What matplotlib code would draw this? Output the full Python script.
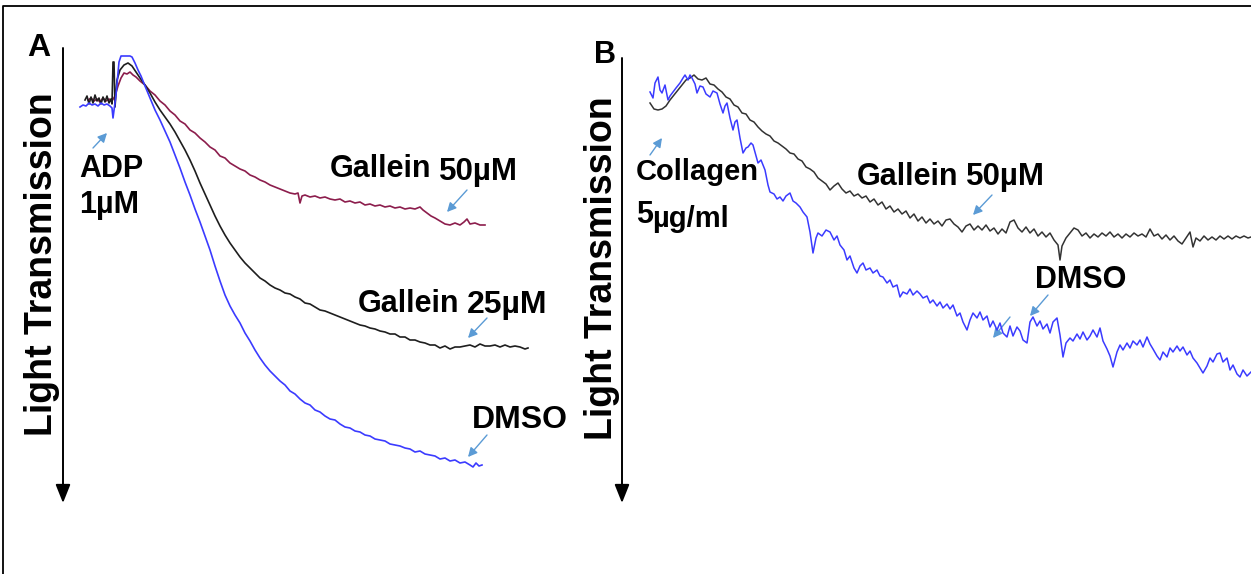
import numpy as np
import matplotlib
matplotlib.use("Agg")
import matplotlib.pyplot as plt
from matplotlib import font_manager

# ---------------------------------------------------------------------------
# Aggregation traces: (time after start of recording [s], change in light
# transmission [%]).  Larger values = more aggregation (traces run downward).
# ---------------------------------------------------------------------------

# Panel A - ADP 1 uM
adp_dmso = np.array([
    (0, 1.75), (3, 1.25), (6, 1.5), (9, 0.75), (12, 1.25), (15, 1.0), (18, 1.5),
    (21, 0.75), (24, 1.25), (27, 1.0), (30, 1.5), (32, 2.0), (33, 4.5), (36, -1.25),
    (39, -9.5), (41, -11), (45, -11), (50, -11), (52, -10.75), (55, -9.25), (58, -7.5),
    (61, -6), (65, -3.5), (70, -0.5), (75, 2.5), (80, 5), (85, 7.75), (90, 10.5),
    (95, 13.75), (100, 17), (105, 20.5), (110, 23.75), (115, 27.25), (120, 30.5),
    (125, 34), (130, 37.5), (135, 41.5), (140, 45.25), (145, 48.75), (150, 51.5),
    (155, 53.75), (160, 55.75), (165, 58.25), (170, 60.25), (175, 62.5), (180, 64.5),
    (185, 66.25), (190, 67.75), (195, 69), (200, 70.25), (205, 71.25), (210, 72.75),
    (215, 73.5), (220, 74.75), (225, 75.75), (230, 76.25), (235, 77.5), (240, 78),
    (245, 79), (250, 79.75), (255, 80), (260, 81), (265, 81.75), (270, 82),
    (275, 82.75), (280, 83), (285, 83.75), (290, 84), (295, 84.75), (300, 85),
    (305, 85.25), (310, 86), (315, 86.25), (320, 86.5), (325, 87), (330, 87.25),
    (335, 88), (340, 87.75), (345, 88.5), (350, 88.75), (355, 89), (360, 89.75),
    (365, 89.5), (370, 90.25), (375, 90), (380, 90.75), (385, 90.5), (390, 91.25),
    (393, 91.75), (396, 90.75), (399, 91.5), (402, 91.25),
])

adp_gallein25 = np.array([
    (5, 0), (7, -1), (9, 1), (11, -0.75), (13, 0.75), (15, -1.25), (17, 0.25),
    (19, -0.5), (21, 1), (23, -0.75), (25, 0.5), (27, -1), (29, 0.75), (31, -0.25),
    (32, 1.0), (33, -9.5), (34, -9.5), (35, 1.75), (37, -5), (40, -7.5), (44, -8.75),
    (48, -9.25), (52, -8.5), (56, -7), (60, -5.5), (65, -3.75), (70, -1.75),
    (75, 0.5), (80, 2.5), (85, 4.25), (90, 6), (95, 8), (100, 10.25), (105, 12.5),
    (110, 15), (115, 17.75), (120, 20.75), (125, 23.5), (130, 26.25), (135, 29),
    (140, 31.5), (145, 33.75), (150, 35.75), (155, 37.5), (160, 39.25), (165, 40.75),
    (170, 42), (175, 43.25), (180, 44.5), (185, 45.25), (190, 46.25), (195, 47),
    (200, 47.5), (205, 48.25), (210, 48.5), (215, 49.25), (220, 49.75), (225, 50.75),
    (230, 51), (235, 51.75), (240, 52.5), (245, 52.75), (250, 53.25), (255, 53.75),
    (260, 54.25), (265, 54.75), (270, 55.25), (275, 55.75), (280, 56.25), (285, 56.5),
    (290, 57), (295, 57.25), (300, 57.75), (305, 58), (310, 58.5), (315, 58.5),
    (320, 59.25), (325, 59.25), (330, 60), (335, 60), (340, 60.5), (345, 60.75),
    (350, 61.25), (355, 61.25), (360, 62), (365, 61.5), (370, 62.25), (375, 61.75),
    (380, 61.75), (385, 61.5), (390, 61.25), (395, 61.75), (400, 61), (405, 61.5),
    (410, 61.5), (415, 61.25), (420, 61.75), (425, 61.25), (430, 61.75), (435, 61.5),
    (440, 61.75), (445, 62.25), (448, 62),
])

adp_gallein50 = np.array([
    (8, 0), (11, -0.5), (14, 0.25), (17, -0.25), (20, 0.5), (23, -0.5), (26, 0.25),
    (29, -0.25), (32, 0.25), (35, -1), (38, -3.5), (41, -5.5), (44, -6.75), (47, -6.5),
    (50, -7), (53, -6.25), (56, -5.75), (60, -4.75), (65, -3.75), (70, -2.25),
    (75, -1.25), (80, 0.25), (85, 1.25), (90, 2.75), (95, 3.75), (100, 5.25),
    (105, 6), (110, 7.5), (115, 8.25), (120, 9.5), (125, 10.5), (130, 11.75),
    (135, 12.5), (140, 14), (145, 14.5), (150, 15.75), (155, 16.5), (160, 17.25),
    (165, 17.75), (170, 18.75), (175, 19.25), (180, 20), (185, 20.5), (190, 21.25),
    (195, 21.75), (200, 22.25), (205, 22.75), (210, 23.25), (215, 23.5), (218, 23.25),
    (220, 25.75), (222, 24), (225, 23.75), (230, 24.25), (235, 24), (240, 24.5),
    (245, 24.25), (250, 24.75), (255, 25), (260, 24.75), (265, 25.5), (270, 25.25),
    (275, 25.75), (280, 25.5), (285, 26.25), (290, 26), (295, 26.5), (300, 26.25),
    (305, 26.75), (310, 26.5), (315, 27), (320, 26.75), (325, 27.25), (330, 27),
    (335, 27.25), (340, 26.75), (343, 27.5), (347, 28.25), (351, 29), (355, 29.5),
    (360, 30.25), (365, 31), (370, 31.25), (375, 30.75), (380, 31.25), (384, 30.5),
    (387, 29.75), (390, 31), (395, 30.75), (400, 31.25), (405, 31.25),
])

# Panel B - collagen 5 ug/ml
col_gallein50 = np.array([
    (0, 0.75), (4, 2.25), (8, 2.5), (12, 2.25), (16, 1.5), (20, 0), (24, -1.25),
    (28, -2.5), (32, -3.75), (36, -5), (40, -5.5), (44, -6.25), (48, -5.25), (52, -5),
    (56, -5.5), (60, -4), (64, -3.75), (68, -2.75), (72, -2), (76, -0.75), (80, -0.25),
    (84, 1.25), (88, 1.75), (92, 3.25), (96, 3.5), (100, 5), (104, 5.5), (108, 6.75),
    (112, 7.75), (116, 8.5), (120, 9), (124, 10.25), (128, 10.75), (132, 11.5),
    (136, 12.25), (140, 13.25), (144, 13.5), (148, 14.75), (152, 15.25), (156, 16.75),
    (160, 17.25), (164, 18), (168, 19.5), (172, 20.25), (176, 21), (180, 22.5),
    (184, 21.5), (188, 20.75), (192, 22.25), (196, 23.25), (200, 22.75), (204, 24),
    (208, 23.5), (212, 24.5), (216, 24), (220, 25.5), (224, 24.75), (228, 26.25),
    (232, 25.5), (236, 27.25), (240, 26.5), (244, 28), (248, 27.25), (252, 28.5),
    (256, 27.75), (260, 29.5), (264, 28.5), (268, 30.25), (272, 29.25), (276, 30.75),
    (280, 29.75), (284, 31), (288, 30.25), (292, 31.5), (296, 30), (300, 29.75),
    (304, 31), (308, 31.75), (312, 33), (316, 31.5), (320, 31), (324, 32.5),
    (328, 31.5), (332, 32.5), (336, 31.25), (340, 32.75), (344, 32), (348, 33.5),
    (352, 32.25), (356, 33.25), (360, 30.5), (364, 30), (368, 32), (372, 33),
    (376, 31.75), (380, 33.25), (384, 32.25), (388, 34), (392, 33), (396, 34.25),
    (400, 33.25), (404, 35), (408, 36.25), (410, 40), (412, 36.5), (416, 34.5),
    (420, 33.25), (424, 32), (428, 32.5), (432, 34), (436, 33.25), (440, 34.5),
    (444, 33.5), (448, 34.25), (452, 33.25), (456, 34), (460, 33), (464, 34.25),
    (468, 33.5), (472, 34.5), (476, 33.5), (480, 34.25), (484, 33.25), (488, 34),
    (492, 33.5), (496, 34.25), (500, 32.25), (504, 34), (508, 33.5), (512, 34.75),
    (516, 33.75), (520, 35), (524, 34), (528, 35.25), (532, 36), (536, 34.5),
    (540, 33), (543, 36.75), (546, 34.5), (550, 35.25), (554, 34), (558, 35),
    (562, 34.25), (566, 35), (570, 34), (574, 34.75), (578, 34), (582, 34.75),
    (586, 34), (590, 34.5), (594, 34), (598, 34.5), (601, 34.25),
])

col_dmso = np.array([
    (0, -2), (3, -0.5), (5, -4.25), (8, -5.75), (10, -2.5), (12, -1.75), (15, -3.75),
    (18, 0), (20, -1), (23, -2), (26, -3), (30, -4.25), (33, -5.5), (35, -6.25),
    (38, -5), (40, -6.25), (42, -5.5), (45, -4), (47, -1.75), (50, -3.5), (53, -3.25),
    (56, -1.5), (60, -0.75), (63, -2.25), (67, -1.75), (70, 1), (73, 3.25), (75, 1.5),
    (77, 0.75), (80, 4.5), (83, 7.5), (85, 5.5), (87, 5), (90, 9.5), (93, 13.25),
    (96, 12), (98, 11.75), (101, 10.75), (103, 11.25), (106, 14), (108, 15.75),
    (111, 15), (115, 17.5), (118, 21.25), (120, 23), (124, 23.5), (127, 24.75),
    (130, 24.25), (133, 25.25), (136, 24), (140, 23.25), (143, 25.25), (146, 25.75),
    (150, 26.75), (153, 28), (157, 29.25), (160, 33), (163, 38.25), (166, 34.5),
    (168, 33.25), (172, 34), (176, 32.5), (180, 33), (184, 35), (187, 34),
    (190, 36.25), (194, 37.5), (197, 40), (200, 39), (204, 42), (207, 43.25),
    (210, 41.5), (213, 40.75), (216, 42.5), (220, 42), (223, 43.25), (227, 42.5),
    (230, 44), (233, 44.25), (237, 45.75), (240, 45), (243, 46.75), (247, 46.25),
    (250, 49.25), (253, 48), (257, 48.5), (260, 47.25), (263, 48.75), (267, 47.75),
    (270, 48.5), (273, 49.5), (277, 49), (280, 50.75), (283, 50), (287, 51.5),
    (290, 50.5), (293, 52), (297, 51), (300, 52.25), (303, 51.25), (307, 54),
    (310, 53.25), (313, 55.5), (317, 57.5), (320, 55), (323, 53.25), (327, 54.5),
    (330, 53), (333, 55), (337, 54), (340, 56.75), (343, 55.25), (347, 57.5),
    (350, 55.75), (353, 58.25), (357, 59.25), (360, 56.5), (363, 59), (367, 56.75),
    (370, 57.75), (373, 60), (377, 60.75), (380, 55.5), (383, 54.25), (387, 56.5),
    (390, 55.25), (393, 57.25), (397, 56), (400, 58.25), (403, 55.5), (407, 54.5),
    (410, 58.75), (413, 64.25), (416, 60.75), (420, 59.5), (423, 60.25), (427, 58.5),
    (430, 59.75), (433, 58), (437, 60), (440, 59), (443, 57.5), (447, 59.25),
    (450, 57), (453, 60.25), (457, 62.25), (460, 64), (463, 66.75), (467, 63),
    (470, 61.25), (473, 62.5), (477, 60.75), (480, 62), (483, 60.25), (487, 61.25),
    (490, 60), (493, 61.75), (497, 59.25), (500, 61), (503, 62.25), (507, 64),
    (510, 65), (513, 63), (517, 64.25), (520, 62), (523, 63), (527, 61.5),
    (530, 62.75), (533, 61.75), (537, 63.75), (540, 62.75), (543, 64.5), (547, 65.75),
    (550, 67), (553, 68.25), (557, 66.5), (560, 64.5), (563, 65.5), (567, 63.5),
    (570, 63.25), (573, 65.5), (577, 64.5), (580, 67.5), (583, 66.25), (587, 68.5),
    (590, 69.25), (593, 67.5), (597, 69), (601, 68),
])

# Colours
BLUE = "#3b3bff"
BLACK = "#1e1e1e"
GREY = "#333333"
MAROON = "#8c1d4c"
POINTER = "#5b9bd5"

# ---------------------------------------------------------------------------
W, H = 1251, 574
fig = plt.figure(figsize=(W / 100, H / 100), dpi=100)

# full-figure layer (pixel units) for frame, axis arrows, labels, pointers
canvas = fig.add_axes([0, 0, 1, 1])
canvas.set_xlim(0, W)
canvas.set_ylim(H, 0)
canvas.axis("off")

names = {f.name for f in font_manager.fontManager.ttflist}
FONT = "Liberation Sans" if "Liberation Sans" in names else "DejaVu Sans"
if "Liberation Sans Narrow" in names:
    AX_FONT, AX_SIZE = "Liberation Sans Narrow", 33
else:
    AX_FONT, AX_SIZE = FONT, 27


def panel(left, top, right, bottom, start_px, base_px, px_per_pct=4.0):
    """Trace axes placed in pixel units; 1 s per pixel, 4 px per % transmission."""
    ax = fig.add_axes([left / W, 1 - bottom / H, (right - left) / W, (bottom - top) / H])
    ax.set_xlim(left - start_px, right - start_px)
    ax.set_ylim((bottom - base_px) / px_per_pct, (top - base_px) / px_per_pct)
    ax.axis("off")
    return ax


# outer frame (top and left edges)
canvas.plot([3, 3, W], [H, 6, 6], color="black", lw=1.3, solid_capstyle="butt")

# downward "Light Transmission" axes
for x, y_top in [(63, 48), (622, 58)]:
    canvas.annotate("", xy=(x, 503), xytext=(x, y_top),
                    arrowprops=dict(arrowstyle="-|>,head_length=0.8,head_width=0.32",
                                    color="black", lw=1.4, mutation_scale=14,
                                    shrinkA=0, shrinkB=0))

for x, y in [(42, 264), (602, 268)]:
    canvas.text(x, y, "Light Transmission", rotation=90, ha="center", va="center",
                family=AX_FONT, fontsize=AX_SIZE, fontweight="bold")

# panel letters
canvas.text(27, 56, "A", family=FONT, fontsize=23, fontweight="bold")
canvas.text(594, 63, "B", family=FONT, fontsize=22, fontweight="bold")

# trace labels (left, baseline)
labels = [
    (79, 177, "ADP", 22), (79, 213, "1µM", 22),
    (330, 177, "Gallein", 22), (439, 180, "50µM", 22.5),
    (358, 312, "Gallein", 22), (467, 313, "25µM", 23),
    (472, 428, "DMSO", 23),
    (636, 180, "Collagen", 21), (636, 223, "5", 22), (652, 227, "µg/ml", 21),
    (857, 185, "Gallein", 22), (966, 185, "50µM", 22.5),
    (1035, 288, "DMSO", 22),
]
for x, y, s, fs in labels:
    canvas.text(x, y, s, ha="left", va="baseline", family=FONT, fontsize=fs,
                fontweight="bold")

# small pointer arrows (tail -> head)
pointers = [
    ((93, 148), (107, 133)), ((467, 190), (447, 212)), ((487, 318), (468, 338)),
    ((487, 435), (468, 457)), ((650, 155), (662, 138)), ((992, 195), (973, 215)),
    ((1048, 295), (1030, 316)), ((1010, 317), (993, 338)),
]
for tail, head in pointers:
    canvas.annotate("", xy=head, xytext=tail,
                    arrowprops=dict(arrowstyle="-|>,head_length=0.6,head_width=0.3",
                                    color=POINTER, lw=1.0, mutation_scale=9,
                                    shrinkA=0, shrinkB=0))

# Panel A traces
ax_a = panel(63, 40, 560, 505, start_px=80, base_px=100)
ax_a.plot(adp_gallein50[:, 0], adp_gallein50[:, 1], color=MAROON, lw=1.2)
ax_a.plot(adp_gallein25[:, 0], adp_gallein25[:, 1], color=BLACK, lw=1.2)
ax_a.plot(adp_dmso[:, 0], adp_dmso[:, 1], color=BLUE, lw=1.2)

# Panel B traces
ax_b = panel(622, 40, W, 505, start_px=650, base_px=100)
ax_b.plot(col_gallein50[:, 0], col_gallein50[:, 1], color=GREY, lw=1.1)
ax_b.plot(col_dmso[:, 0], col_dmso[:, 1], color=BLUE, lw=1.1)

fig.savefig("out.png", dpi=100)
